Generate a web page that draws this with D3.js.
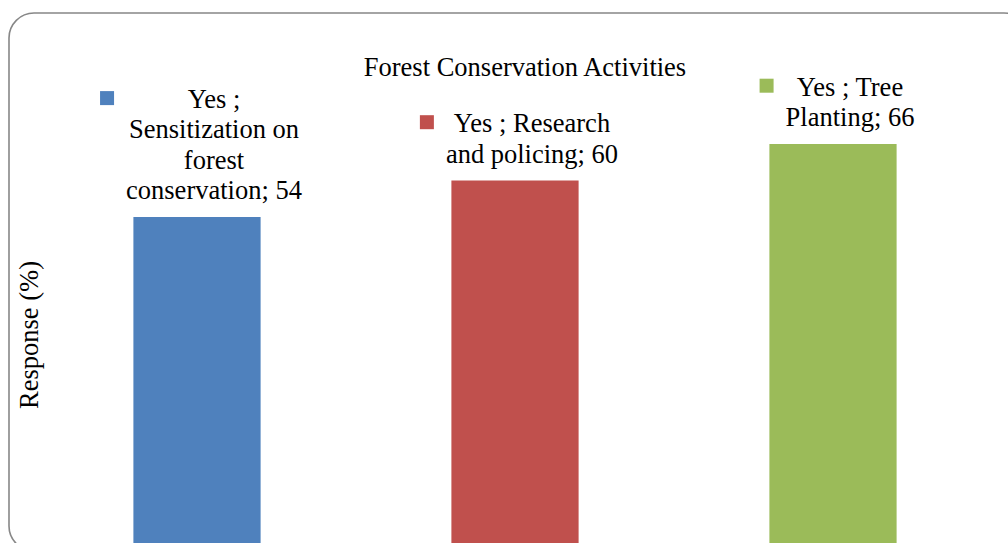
<!DOCTYPE html>
<html>
<head>
<meta charset="utf-8">
<script src="https://cdn.jsdelivr.net/npm/d3@7"></script>
<style>
  html, body { margin: 0; padding: 0; background: #fff; overflow: hidden; }
  svg { display: block; font-family: "Liberation Serif", "Times New Roman", serif; }
</style>
</head>
<body>
<script>
// Chart data
const categories = ["Sensitization on forest conservation", "Research and policing", "Tree Planting"];
const values = [54, 60, 66];
const labelLines = [
  ["Yes ;", "Sensitization on", "forest", "conservation; 54"],
  ["Yes ; Research", "and policing; 60"],
  ["Yes ; Tree", "Planting; 66"]
];
const colors = ["#4F81BD", "#C0504D", "#9BBB59"];

const width = 1008;
const height = 543;
const fontSize = 26.5;

const svg = d3.select("body").append("svg")
  .attr("width", width)
  .attr("height", height);

// chart frame, runs past the bottom/right of the picture
svg.append("rect")
  .attr("x", 9).attr("y", 13)
  .attr("width", 1020).attr("height", 538)
  .attr("rx", 25).attr("ry", 25)
  .attr("fill", "none")
  .attr("stroke", "#878787")
  .attr("stroke-width", 1.6);

const x = d3.scaleBand()
  .domain(categories)
  .range([38, 992])
  .paddingInner(0.6)
  .paddingOuter(0.3);

const y = d3.scaleLinear()
  .domain([0, 66])
  .range([545.5, 144]);

// bars
svg.append("g")
  .selectAll("rect")
  .data(categories)
  .join("rect")
  .attr("x", d => x(d))
  .attr("y", (d, i) => y(values[i]))
  .attr("width", x.bandwidth())
  .attr("height", (d, i) => y(0) - y(values[i]))
  .attr("fill", (d, i) => colors[i]);

// title
svg.append("text")
  .attr("x", 525)
  .attr("y", 76)
  .attr("text-anchor", "middle")
  .attr("font-size", fontSize)
  .attr("fill", "#000")
  .text("Forest Conservation Activities");

// y axis title
svg.append("text")
  .attr("transform", "translate(38,335) rotate(-90)")
  .attr("text-anchor", "middle")
  .attr("font-size", fontSize)
  .attr("fill", "#000")
  .text("Response (%)");

// data labels with legend key
const lineH = 30.3;
const labels = svg.append("g")
  .selectAll("g")
  .data(categories)
  .join("g");

labels.each(function(d, i) {
  const g = d3.select(this);
  const lines = labelLines[i];
  const cx = x(d) + x.bandwidth() / 2 + 17;
  const lastBase = y(values[i]) - 18;
  const firstBase = lastBase - (lines.length - 1) * lineH;
  const t = g.append("text")
    .attr("text-anchor", "middle")
    .attr("font-size", fontSize)
    .attr("fill", "#000");
  t.selectAll("tspan")
    .data(lines)
    .join("tspan")
    .attr("x", cx)
    .attr("y", (l, j) => firstBase + j * lineH)
    .text(l => l);
  let maxW = 0;
  t.selectAll("tspan").each(function() {
    maxW = Math.max(maxW, this.getComputedTextLength());
  });
  g.append("rect")
    .attr("x", cx - maxW / 2 - 12 - 14)
    .attr("y", firstBase - 10 - 7)
    .attr("width", 14)
    .attr("height", 14)
    .attr("fill", colors[i]);
});
</script>
</body>
</html>
